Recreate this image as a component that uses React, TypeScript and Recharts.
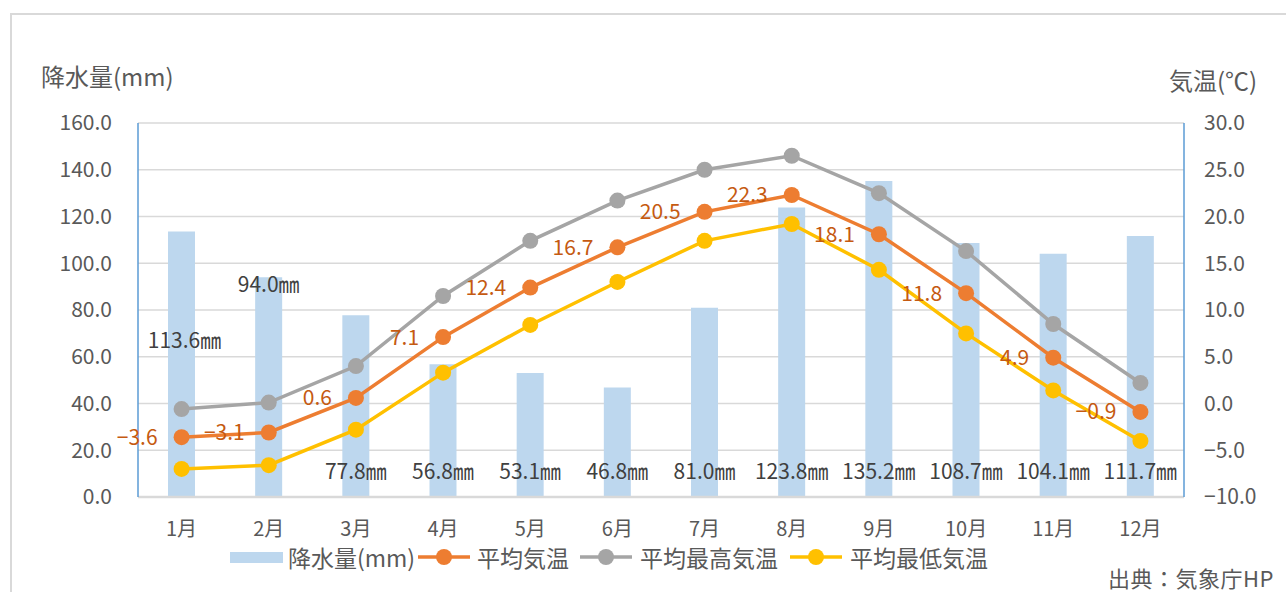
import React from 'react';
import { ComposedChart, Bar, Line, XAxis, YAxis, CartesianGrid, LabelList } from 'recharts';

const months = ['1月', '2月', '3月', '4月', '5月', '6月', '7月', '8月', '9月', '10月', '11月', '12月'];
const precipitation = [113.6, 94.0, 77.8, 56.8, 53.1, 46.8, 81.0, 123.8, 135.2, 108.7, 104.1, 111.7];
const avgTemp = [-3.6, -3.1, 0.6, 7.1, 12.4, 16.7, 20.5, 22.3, 18.1, 11.8, 4.9, -0.9];
const maxTemp = [-0.6, 0.1, 4.0, 11.5, 17.4, 21.7, 25.0, 26.5, 22.5, 16.3, 8.5, 2.2];
const minTemp = [-7.0, -6.6, -2.8, 3.3, 8.4, 13.0, 17.4, 19.2, 14.3, 7.5, 1.4, -4.0];
const leftTicks = [0, 20, 40, 60, 80, 100, 120, 140, 160];
const rightTicks = [-10, -5, 0, 5, 10, 15, 20, 25, 30];

const data = months.map((m, i) => ({
  month: m,
  precip: precipitation[i],
  avg: avgTemp[i],
  max: maxTemp[i],
  min: minTemp[i],
}));

const FONT = '"Noto Sans CJK JP", "Noto Sans", sans-serif';
const TEXT = '#595959';

const fmtTemp = (v: number) => (v < 0 ? '\u2212' + Math.abs(v).toFixed(1) : v.toFixed(1));

const PrecipLabel = (props: any) => {
  const vb = props.viewBox && props.viewBox.width !== undefined ? props.viewBox : props;
  const x = Number(vb.x);
  const y = Number(vb.y);
  const w = Number(vb.width);
  const h = Number(vb.height);
  const index = props.index;
  const value = Number(props.value);
  const lift = index === 0 ? 158 : index === 1 ? 214 : 27;
  return (
    <text
      x={x + w / 2 + (index === 0 ? 3 : 0)}
      y={y + h - lift}
      textAnchor="middle"
      dominantBaseline="central"
      fill="#404040"
      fontSize={21}
      fontFamily={FONT}
    >
      {value.toFixed(1)}㎜
    </text>
  );
};

const LineIcon = ({ color }: { color: string }) => (
  <svg width={52} height={20} style={{ display: 'block' }}>
    <line x1={0} y1={10} x2={52} y2={10} stroke={color} strokeWidth={3.5} />
    <circle cx={26} cy={10} r={8} fill={color} />
  </svg>
);

const legendText: React.CSSProperties = {
  position: 'absolute',
  top: 3,
  height: 24,
  lineHeight: '24px',
  fontSize: 23,
  color: TEXT,
  whiteSpace: 'nowrap',
};

export default function App() {
  return (
    <div style={{ position: 'relative', width: 1286, height: 592, overflow: 'hidden', fontFamily: FONT, background: '#fff' }}>
      <style>{`body{margin:0;overflow:hidden;}`}</style>
      <div
        style={{
          position: 'absolute',
          left: 10,
          top: 13,
          width: 1300,
          height: 620,
          border: '2px solid #D9D9D9',
          boxSizing: 'border-box',
        }}
      />
      <div style={{ position: 'absolute', left: 0, top: 0 }}>
        <ComposedChart
          width={1286}
          height={592}
          data={data}
          margin={{ top: 123, right: 0, bottom: 50, left: 0 }}
        >
          <CartesianGrid vertical={false} stroke="#D9D9D9" strokeWidth={1.5} yAxisId="left" />
          <XAxis
            dataKey="month"
            height={45}
            tickLine={false}
            axisLine={{ stroke: '#D9D9D9', strokeWidth: 2.5 }}
            tick={{ fill: TEXT, fontSize: 20, fontFamily: FONT }}
            tickMargin={19}
            interval={0}
          />
          <YAxis
            yAxisId="left"
            orientation="left"
            width={138}
            domain={[0, 160]}
            ticks={leftTicks}
            interval={0}
            tickLine={false}
            axisLine={{ stroke: '#5B9BD5', strokeWidth: 1.5 }}
            tick={{ fill: TEXT, fontSize: 21, fontFamily: FONT }}
            tickMargin={20}
            tickFormatter={(v: number) => v.toFixed(1)}
          />
          <YAxis
            yAxisId="right"
            orientation="right"
            width={102}
            domain={[-10, 30]}
            ticks={rightTicks}
            interval={0}
            tickLine={false}
            axisLine={{ stroke: '#5B9BD5', strokeWidth: 1.5 }}
            tick={{ fill: TEXT, fontSize: 21, fontFamily: FONT, textAnchor: 'start' }}
            tickMargin={14}
            tickFormatter={fmtTemp}
          />
          <Bar yAxisId="left" dataKey="precip" fill="#BDD7EE" barSize={27} isAnimationActive={false}>
            <LabelList dataKey="precip" content={PrecipLabel} />
          </Bar>
          <Line
            yAxisId="right"
            dataKey="max"
            stroke="#A5A5A5"
            strokeWidth={3.5}
            dot={{ r: 8, fill: '#A5A5A5', stroke: '#A5A5A5', strokeWidth: 0 }}
            activeDot={false}
            isAnimationActive={false}
          />
          <Line
            yAxisId="right"
            dataKey="min"
            stroke="#FFC000"
            strokeWidth={3.5}
            dot={{ r: 8, fill: '#FFC000', stroke: '#FFC000', strokeWidth: 0 }}
            activeDot={false}
            isAnimationActive={false}
          />
          <Line
            yAxisId="right"
            dataKey="avg"
            stroke="#ED7D31"
            strokeWidth={3.5}
            dot={{ r: 8, fill: '#ED7D31', stroke: '#ED7D31', strokeWidth: 0 }}
            activeDot={false}
            isAnimationActive={false}
          >
            <LabelList
              dataKey="avg"
              position="left"
              offset={24}
              fill="#C55A11"
              fontSize={21}
              fontFamily={FONT}
              formatter={(v: any) => fmtTemp(Number(v))}
            />
          </Line>
        </ComposedChart>
      </div>
      <div style={{ position: 'absolute', left: 41, top: 60, fontSize: 24, color: TEXT, lineHeight: '32px', whiteSpace: 'nowrap' }}>
        降水量(mm)
      </div>
      <div style={{ position: 'absolute', left: 1169, top: 64, fontSize: 24, color: TEXT, lineHeight: '32px', whiteSpace: 'nowrap' }}>
        気温(℃)
      </div>
      <div style={{ position: 'absolute', left: 0, top: 542, width: 1286, height: 30 }}>
        <div style={{ position: 'absolute', left: 230, top: 10, width: 53, height: 11, background: '#BDD7EE' }} />
        <span style={{ ...legendText, left: 288 }}>降水量(mm)</span>
        <span style={{ position: 'absolute', left: 418, top: 5 }}><LineIcon color="#ED7D31" /></span>
        <span style={{ ...legendText, left: 477 }}>平均気温</span>
        <span style={{ position: 'absolute', left: 580, top: 5 }}><LineIcon color="#A5A5A5" /></span>
        <span style={{ ...legendText, left: 640 }}>平均最高気温</span>
        <span style={{ position: 'absolute', left: 790, top: 5 }}><LineIcon color="#FFC000" /></span>
        <span style={{ ...legendText, left: 850 }}>平均最低気温</span>
      </div>
      <div style={{ position: 'absolute', left: 1108, top: 565, fontSize: 22, color: TEXT, lineHeight: '24px', whiteSpace: 'nowrap', letterSpacing: 0.5 }}>
        出典：気象庁HP
      </div>
    </div>
  );
}
